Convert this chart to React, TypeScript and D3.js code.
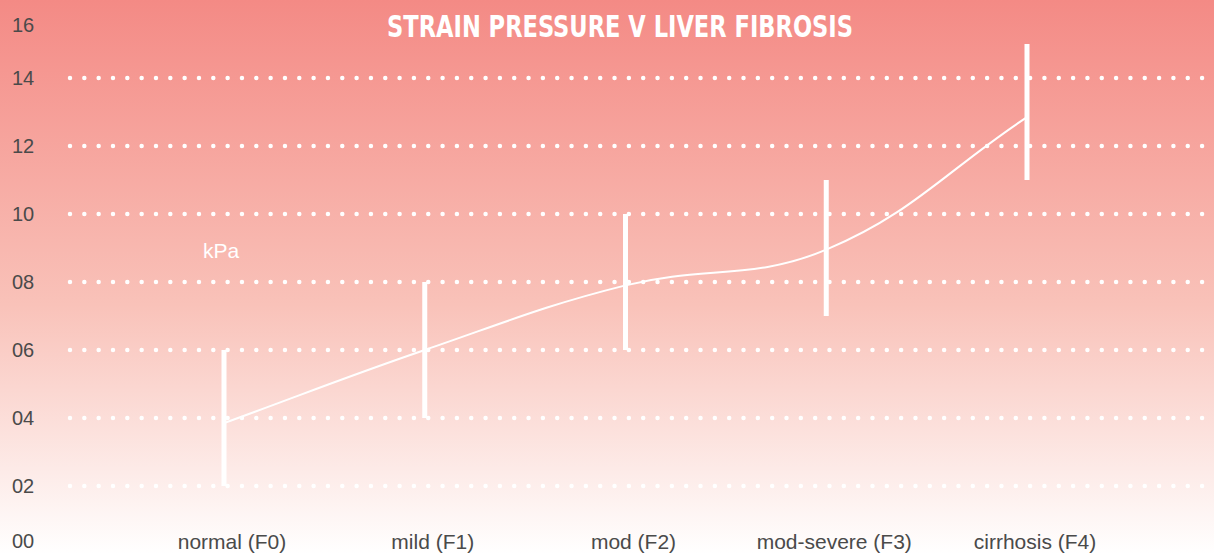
import React, { useRef, useEffect } from 'react';
import * as d3 from 'd3';

const categories = ['normal (F0)', 'mild (F1)', 'mod (F2)', 'mod-severe (F3)', 'cirrhosis (F4)'];
const meanValues = [3.85, 6, 7.9, 8.95, 12.85];
const lowValues = [2, 4, 6, 7, 11];
const highValues = [6, 8, 10, 11, 15];
const gridTicks = [2, 4, 6, 8, 10, 12, 14];
const axisTicks = [0, 2, 4, 6, 8, 10, 12, 14, 16];
const title = 'Strain Pressure v Liver Fibrosis';
const unitLabel = 'kPa';

const W = 1214;
const H = 554;
const TENSION = 0.4;

// chart.js style spline through pixel points
function splinePath(pts: [number, number][]) {
    const p = d3.path();
    const cps = pts.map((cur, i) => {
        const prev = pts[i - 1] || cur;
        const next = pts[i + 1] || cur;
        const d01 = Math.hypot(cur[0] - prev[0], cur[1] - prev[1]);
        const d12 = Math.hypot(next[0] - cur[0], next[1] - cur[1]);
        const sum = d01 + d12 || 1;
        const fa = TENSION * d01 / sum;
        const fb = TENSION * d12 / sum;
        return {
            c1: [cur[0] - fa * (next[0] - prev[0]), cur[1] - fa * (next[1] - prev[1])],
            c2: [cur[0] + fb * (next[0] - prev[0]), cur[1] + fb * (next[1] - prev[1])]
        };
    });
    p.moveTo(pts[0][0], pts[0][1]);
    for (let i = 1; i < pts.length; i++) {
        const a = cps[i - 1].c2;
        const b = cps[i].c1;
        p.bezierCurveTo(a[0], a[1], b[0], b[1], pts[i][0], pts[i][1]);
    }
    return p.toString();
}

const App = () => {
    const svgRef = useRef<SVGSVGElement>(null);

    useEffect(() => {
        if (!svgRef.current) return;
        const svg = d3.select(svgRef.current);
        svg.selectAll('*').remove();

        // background gradient
        const defs = svg.append('defs');
        const grad = defs.append('linearGradient')
            .attr('id', 'bg')
            .attr('x1', 0).attr('y1', 0).attr('x2', 0).attr('y2', 1);
        grad.append('stop').attr('offset', '0%').attr('stop-color', '#f48a85');
        grad.append('stop').attr('offset', '55%').attr('stop-color', '#f9c2b9');
        grad.append('stop').attr('offset', '100%').attr('stop-color', '#ffffff');
        svg.append('rect').attr('width', W).attr('height', H).attr('fill', 'url(#bg)');

        const y = d3.scaleLinear().domain([0, 16]).range([H, H - 16 * 34]);
        const x = d3.scalePoint<string>().domain(categories).range([224, 1027]);
        const font = 'Liberation Sans, Arial, sans-serif';

        // dotted grid
        svg.append('g').selectAll('line')
            .data(gridTicks)
            .enter()
            .append('line')
            .attr('x1', 70)
            .attr('x2', W)
            .attr('y1', d => y(d))
            .attr('y2', d => y(d))
            .attr('stroke', '#ffffff')
            .attr('stroke-width', 4.5)
            .attr('stroke-linecap', 'round')
            .attr('stroke-dasharray', '0 14.33');

        // y labels (kept inside the frame)
        svg.append('g').selectAll('text')
            .data(axisTicks)
            .enter()
            .append('text')
            .attr('x', 12)
            .attr('y', d => Math.min(Math.max(y(d) + 7, 31.5), 548))
            .attr('fill', '#4a4a4a')
            .attr('font-family', font)
            .attr('font-size', '20px')
            .text(d => d3.format('02d')(d));

        // category labels
        svg.append('g').selectAll('text')
            .data(categories)
            .enter()
            .append('text')
            .attr('x', d => (x(d) as number) + 8)
            .attr('y', 549)
            .attr('text-anchor', 'middle')
            .attr('fill', '#4a4a4a')
            .attr('font-family', font)
            .attr('font-size', '21px')
            .text(d => d);

        // error bars
        svg.append('g').selectAll('line')
            .data(categories)
            .enter()
            .append('line')
            .attr('x1', d => x(d) as number)
            .attr('x2', d => x(d) as number)
            .attr('y1', (d, i) => y(lowValues[i]))
            .attr('y2', (d, i) => y(highValues[i]))
            .attr('stroke', '#ffffff')
            .attr('stroke-width', 5);

        // mean line
        const pts = meanValues.map((v, i) => [x(categories[i]) as number, y(v)] as [number, number]);
        svg.append('path')
            .attr('fill', 'none')
            .attr('stroke', '#ffffff')
            .attr('stroke-width', 2)
            .attr('d', splinePath(pts));

        // unit label
        svg.append('text')
            .attr('x', (x(categories[0]) as number) - 3)
            .attr('y', y(8.9) + 7)
            .attr('text-anchor', 'middle')
            .attr('fill', '#ffffff')
            .attr('font-family', font)
            .attr('font-size', '21px')
            .text(unitLabel);

        // title
        svg.append('text')
            .attr('x', 620)
            .attr('y', 37)
            .attr('text-anchor', 'middle')
            .attr('fill', '#ffffff')
            .attr('font-family', 'Liberation Sans Narrow, DejaVu Sans Condensed, sans-serif')
            .attr('font-weight', 'bold')
            .attr('font-size', '30px')
            .attr('textLength', 466)
            .attr('lengthAdjust', 'spacingAndGlyphs')
            .text(title.toUpperCase());
    }, []);

    return (
        <div style={{ position: 'absolute', left: 0, top: 0 }}>
            <svg ref={svgRef} width={W} height={H} style={{ display: 'block' }} />
        </div>
    );
};

export default App;
